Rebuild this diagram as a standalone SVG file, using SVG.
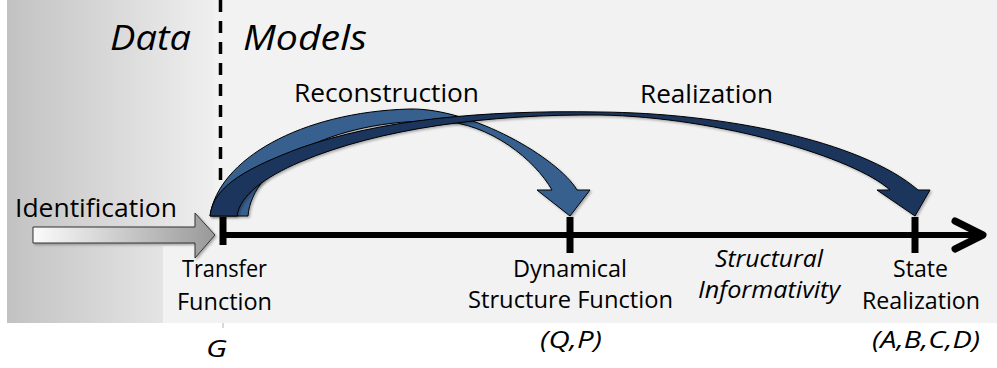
<svg xmlns="http://www.w3.org/2000/svg" width="997" height="368" viewBox="0 0 997 368">
  <defs>
    <linearGradient id="leftGrad" x1="7" y1="0" x2="214" y2="0" gradientUnits="userSpaceOnUse">
      <stop offset="0" stop-color="#c2c2c2"/>
      <stop offset="1" stop-color="#efefef"/>
    </linearGradient>
    <linearGradient id="idGrad" x1="33" y1="0" x2="215" y2="0" gradientUnits="userSpaceOnUse">
      <stop offset="0" stop-color="#fbfbfb"/>
      <stop offset="1" stop-color="#999999"/>
    </linearGradient>
    <filter id="shadow" x="-10%" y="-10%" width="130%" height="130%">
      <feDropShadow dx="1.5" dy="1.5" stdDeviation="1.2" flood-color="#000" flood-opacity="0.3"/>
    </filter>
  </defs>
  <style>
    text { font-family: "Open Sans", "Liberation Sans", sans-serif; fill: #000; }
    .lbl { font-size: 24px; text-anchor: middle; }
    .big { font-size: 26px; }
    .title { font-size: 35px; font-style: italic; }
    .it { font-style: italic; }
    .tick { stroke: #000; stroke-width: 7; }
    .band { stroke: #000; stroke-width: 1; stroke-linejoin: round; }
  </style>

  <!-- background -->
  <rect x="7" y="0" width="990" height="323" fill="#f2f2f2"/>
  <rect x="7" y="0" width="207" height="323" fill="url(#leftGrad)"/>
  <rect x="163" y="246" width="122" height="77" fill="#f2f2f2"/>
  <line x1="220.5" y1="180" x2="220.5" y2="0" stroke="#000" stroke-width="3.5" stroke-dasharray="12 9"/>
  <rect x="222" y="323" width="2" height="5" fill="#d8d8d8"/>

  <g id="data-label">
    <text class="title" x="110" y="50" textLength="81" lengthAdjust="spacingAndGlyphs">Data</text>
  </g>
  <g id="models-label">
    <text class="title" x="243" y="50" textLength="124" lengthAdjust="spacingAndGlyphs">Models</text>
  </g>

  <g id="connectors">
    <!-- axis -->
    <line x1="223" y1="235" x2="980" y2="235" stroke="#000" stroke-width="6"/>
    <polyline points="955,221 983,235 955,249" fill="none" stroke="#000" stroke-width="7" stroke-linecap="round" stroke-linejoin="round"/>
    <line class="tick" x1="223" y1="217" x2="223" y2="245"/>
    <line class="tick" x1="570" y1="217" x2="570" y2="253"/>
    <line class="tick" x1="915" y1="217" x2="915" y2="253"/>

    <!-- Reconstruction curved arrow -->
    <path id="reconstruction-arrow" class="band" fill="#37608f" filter="url(#shadow)"
      d="M210,216 C218,160 300,112 410,109 C472,108 558,158 577,190 L590,190 L570,216 L537,190 L552,190 C535,160 490,123 440,121 C330,119 252,165 248,216 Z"/>
    <!-- Realization curved arrow -->
    <path id="realization-arrow" class="band" fill="#1b365b" filter="url(#shadow)"
      d="M210,216 C213,185 250,167 300,148 C380,120 480,110 600,112 C720,113 860,140 918,190 L930,190 L915,216 L877,190 L890,190 C855,158 720,117 600,115 C490,114 380,128 300,162 C265,177 240,195 237,216 Z"/>

    <!-- Identification arrow -->
    <path id="identification-arrow" d="M33,227 L195,227 L195,213 L215,235 L195,258 L195,243 L33,243 Z" fill="url(#idGrad)" stroke="#333" stroke-width="1" filter="url(#shadow)"/>
  </g>

  <g id="reconstruction-label">
    <text class="big" x="294" y="102" textLength="185" lengthAdjust="spacingAndGlyphs">Reconstruction</text>
  </g>
  <g id="realization-label">
    <text class="big" x="640" y="103" textLength="133" lengthAdjust="spacingAndGlyphs">Realization</text>
  </g>
  <g id="identification-label">
    <text x="15" y="217" font-size="25" textLength="162" lengthAdjust="spacingAndGlyphs">Identification</text>
  </g>

  <g id="transfer-function">
    <text class="lbl" x="224.5" y="277" textLength="85" lengthAdjust="spacingAndGlyphs">Transfer</text>
    <text class="lbl" x="224.5" y="310" textLength="95" lengthAdjust="spacingAndGlyphs">Function</text>
    <text class="lbl it" x="216.5" y="357" font-size="22" textLength="21" lengthAdjust="spacingAndGlyphs">G</text>
  </g>

  <g id="dynamical-structure-function">
    <text class="lbl" x="570" y="277" textLength="114" lengthAdjust="spacingAndGlyphs">Dynamical</text>
    <text class="lbl" x="570.5" y="308" textLength="205" lengthAdjust="spacingAndGlyphs">Structure Function</text>
    <text class="lbl it" x="571" y="348" font-size="23" textLength="62" lengthAdjust="spacingAndGlyphs">(Q,P)</text>
  </g>

  <g id="structural-informativity">
    <text class="lbl it" x="769" y="267" textLength="108" lengthAdjust="spacingAndGlyphs">Structural</text>
    <text class="lbl it" x="769" y="298" textLength="142" lengthAdjust="spacingAndGlyphs">Informativity</text>
  </g>

  <g id="state-realization">
    <text class="lbl" x="920.5" y="277" textLength="55" lengthAdjust="spacingAndGlyphs">State</text>
    <text class="lbl" x="921" y="309" textLength="118" lengthAdjust="spacingAndGlyphs">Realization</text>
    <text class="lbl it" x="926" y="348" font-size="23" textLength="108" lengthAdjust="spacingAndGlyphs">(A,B,C,D)</text>
  </g>
</svg>
